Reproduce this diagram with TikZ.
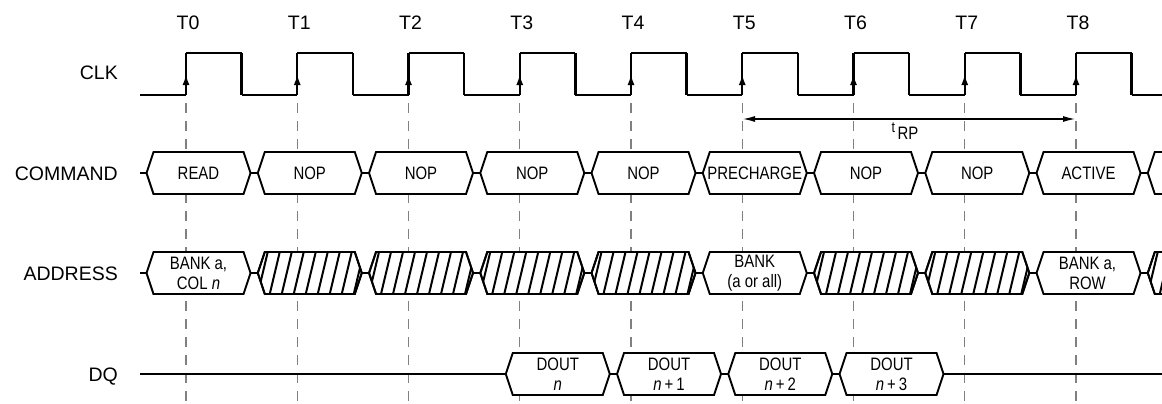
\documentclass[tikz,border=0pt]{standalone}
\usepackage{fontspec}
\setmainfont{Liberation Sans}
\newfontfamily\narrowfont[FakeStretch=0.83]{Liberation Sans}
\usetikzlibrary{arrows.meta,positioning}

% hexagonal bus slot, left point at (#1,#2)
\newcommand{\busslot}[2]{(#1,#2) -- ++(7,-21) -- ++(90,0) -- ++(7,21) -- ++(-7,21) -- ++(-90,0) -- cycle}

\begin{document}
\begin{tikzpicture}[
  x=1pt, y=-1pt,
  font=\fontsize{19.5}{22}\selectfont, >={Latex[length=12pt,width=6pt]},
  clkline/.style={line width=1.5pt},
  clkedge/.style={line width=2.4pt},
  guideline/.style={gray, line width=1.1pt, dash pattern=on 10pt off 8pt},
  midline/.style={line width=1.4pt},
  busslotline/.style={line width=1.9pt, line join=miter},
  hatchline/.style={line width=2pt},
  siglabel/.style={anchor=base east, inner sep=0pt},
  buslabel/.style={font=\narrowfont\fontsize{18}{20}\selectfont, align=center, inner sep=0pt}
]
\clip (0,0) rectangle (1162,404);

% guide lines and clock
\foreach \k [evaluate=\k as \e using 186+111.25*\k] in {0,...,8} {
  \draw[guideline] (\e,103) -- (\e,404);
  \node (t\k) at (\e+2,23) {T\k};
  \draw[clkline] (\e,53) -- (\e+55.6,53) (\e+55.6,95) -- (\e+111.25,95);
  \draw[clkedge] (\e,95) -- (\e,53) (\e+55.6,53) -- (\e+55.6,95);
  \draw[clkedge,-{Latex[length=11pt,width=7pt]}] (\e,95) -- (\e,74);
}
\draw[clkline] (140,95) -- (186,95);

\node[siglabel] (clk) at (118,80) {CLK};
\node[siglabel] (command) at (118,180) {COMMAND};
\node[siglabel] (address) at (118,280) {ADDRESS};
\node[siglabel] (dq) at (118,381) {DQ};

% tRP
\coordinate (rp5) at (743,119);
\coordinate (rp8) at (1075,119);
\draw[<->, line width=1.1pt] (rp5) -- (rp8);
\node (trp) at (905,131) {\narrowfont\fontsize{15}{15}\selectfont t\,\raisebox{-7pt}{\fontsize{18}{18}\selectfont RP}};

% COMMAND
\draw[midline] (140,173) -- (1162,173);
\foreach \k/\cmd in {0/READ,1/NOP,2/NOP,3/NOP,4/NOP,5/PRECHARGE,6/NOP,7/NOP,8/ACTIVE,9/} {
  \pgfmathsetmacro{\a}{146.5+111.25*\k}
  \draw[busslotline, fill=white] \busslot{\a}{173};
  \node[buslabel] (cmd\k) at (\a+52,173) {\cmd};
}

% ADDRESS
\draw[midline] (140,273) -- (1162,273);
\foreach \k in {0,...,9} {
  \pgfmathsetmacro{\a}{146.5+111.25*\k}
  \draw[busslotline, fill=white] \busslot{\a}{273};
}
\foreach \k in {1,2,3,4,6,7,9} {
  \pgfmathsetmacro{\a}{146.5+111.25*\k}
  \begin{scope}
    \clip \busslot{\a}{273};
    \foreach \h in {-1,...,9}
      \draw[hatchline] (\a+\h*12,294) -- ++(10,-42);
  \end{scope}
  \draw[busslotline] \busslot{\a}{273};
}
\node[buslabel] (adr0) at (198.5,273) {BANK a,\\COL \textit{n}};
\node[buslabel] (adr5) at (754.75,273) {BANK\\(a or all)};
\node[buslabel] (adr8) at (1087.5,273) {BANK a,\\ROW};

% DQ
\draw[midline] (140,374) -- (1162,374);
\foreach \k/\dout in {3/{\textit{n}},4/{\textit{n}\,+\,1},5/{\textit{n}\,+\,2},6/{\textit{n}\,+\,3}} {
  \pgfmathsetmacro{\a}{172+111.25*\k}
  \draw[busslotline, fill=white] \busslot{\a}{374};
  \node[buslabel] (dout\k) at (\a+52,374) {DOUT\\\dout};
}
\end{tikzpicture}
\end{document}
